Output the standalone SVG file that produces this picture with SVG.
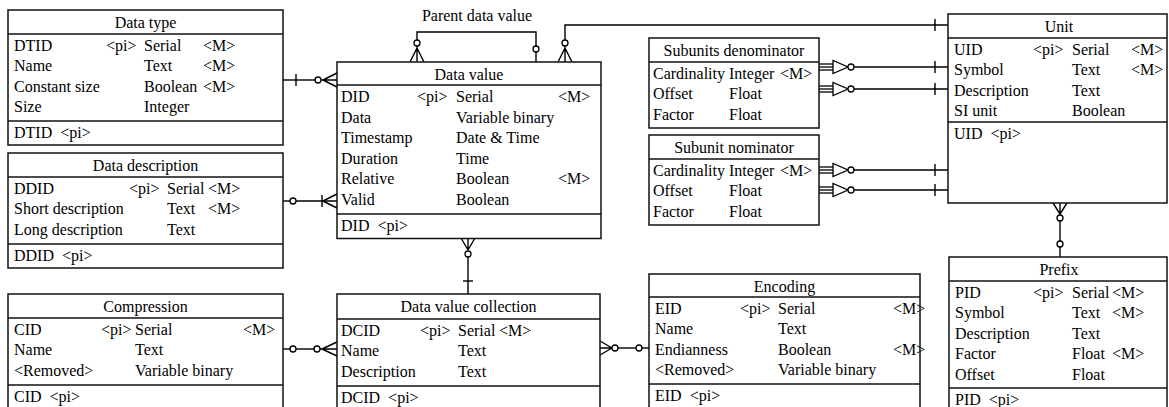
<svg xmlns="http://www.w3.org/2000/svg" width="1169" height="407" viewBox="0 0 1169 407">
  <style>
    .ent{fill:#fff;stroke:#111;stroke-width:1.5}
    .sep{stroke:#111;stroke-width:1.5}
    text{font-family:"Liberation Serif","Times New Roman",serif;font-size:16px;fill:#000}
    .t{text-anchor:middle}
    .c path,.c line{fill:none;stroke:#000;stroke-width:1.4}
    .c circle{fill:#fff;stroke:#000;stroke-width:1.3}
  </style>
  <defs>
    <!-- triple bar + closed crow's foot + circle, drawn pointing right from an entity edge at (0,0) -->
    <g id="subLink" fill="none" stroke="#000" stroke-width="1.3">
      <line x1="0" y1="-3" x2="14" y2="-3"/>
      <line x1="0" y1="0" x2="14" y2="0"/>
      <line x1="0" y1="3" x2="14" y2="3"/>
      <path d="M14,-6.5 L14,6.5 L29,0 Z" fill="#fff"/>
      <circle cx="32" cy="0" r="3" fill="#fff"/>
    </g>
  </defs>

  <!-- Connectors -->
  <g id="connectors" class="c">
    <!-- Data type 1 : n Data value -->
    <line x1="283" y1="80" x2="315" y2="80"/>
    <line x1="296" y1="74" x2="296" y2="86"/>
    <circle cx="318" cy="80" r="3"/>
    <path d="M321,80 H337 M323,80 L337,73 M323,80 L337,87"/>

    <!-- Data description 0..1 : 1..n Data value -->
    <line x1="283" y1="201" x2="290" y2="201"/>
    <circle cx="293" cy="201" r="3"/>
    <line x1="296" y1="201" x2="337" y2="201"/>
    <line x1="322" y1="195" x2="322" y2="207"/>
    <path d="M323,201 L337,194 M323,201 L337,208"/>

    <!-- Parent data value (self reference) -->
    <path d="M417,40 V32 H536 V46"/>
    <circle cx="417" cy="43" r="3"/>
    <path d="M417,46 V62 M417,48 L410,62 M417,48 L424,62"/>
    <circle cx="536" cy="49" r="3"/>
    <line x1="536" y1="52" x2="536" y2="62"/>
    <text class="t" x="477" y="21">Parent data value</text>

    <!-- Data value n : 1 Unit -->
    <path d="M565,40 V25 H948"/>
    <circle cx="565" cy="43" r="3"/>
    <path d="M565,46 V62 M565,48 L558,62 M565,48 L572,62"/>
    <line x1="935" y1="19" x2="935" y2="31"/>

    <!-- Subunits denominator : Unit -->
    <use href="#subLink" x="819" y="67"/>
    <line x1="854" y1="67" x2="948" y2="67"/>
    <line x1="935" y1="61" x2="935" y2="73"/>
    <use href="#subLink" x="819" y="89"/>
    <line x1="854" y1="89" x2="948" y2="89"/>
    <line x1="935" y1="83" x2="935" y2="95"/>

    <!-- Subunit nominator : Unit -->
    <use href="#subLink" x="819" y="170"/>
    <line x1="854" y1="170" x2="948" y2="170"/>
    <line x1="935" y1="164" x2="935" y2="176"/>
    <use href="#subLink" x="819" y="190"/>
    <line x1="854" y1="190" x2="948" y2="190"/>
    <line x1="935" y1="184" x2="935" y2="196"/>

    <!-- Unit 0..n : 0..1 Prefix -->
    <path d="M1060,203 V215 M1053,203 L1060,214 M1067,203 L1060,214"/>
    <circle cx="1060" cy="218" r="3"/>
    <line x1="1060" y1="221" x2="1060" y2="241"/>
    <circle cx="1060" cy="244" r="3"/>
    <line x1="1060" y1="247" x2="1060" y2="257"/>

    <!-- Data value n : 1 Data value collection -->
    <path d="M468,238 V250 M461,238 L468,250 M475,238 L468,250"/>
    <circle cx="468" cy="254" r="3"/>
    <line x1="468" y1="257" x2="468" y2="294"/>
    <line x1="463" y1="281" x2="473" y2="281"/>

    <!-- Compression 0..1 : 0..n Data value collection -->
    <line x1="283" y1="349" x2="290" y2="349"/>
    <circle cx="293" cy="349" r="3"/>
    <line x1="296" y1="349" x2="314" y2="349"/>
    <circle cx="317" cy="349" r="3"/>
    <path d="M320,349 H337 M322,349 L337,342 M322,349 L337,356"/>

    <!-- Data value collection 0..n : 0..1 Encoding -->
    <path d="M600,348 H612 M600,341 L612,348 M600,355 L612,348"/>
    <circle cx="615" cy="348" r="3"/>
    <line x1="618" y1="348" x2="636" y2="348"/>
    <circle cx="639" cy="348" r="3"/>
    <line x1="642" y1="348" x2="649" y2="348"/>
  </g>

  <!-- Data type -->
  <g id="data-type">
    <rect class="ent" x="8" y="10" width="275" height="135"/>
    <line class="sep" x1="8" y1="34" x2="283" y2="34"/>
    <line class="sep" x1="8" y1="121" x2="283" y2="121"/>
    <text class="t" x="145.5" y="28">Data type</text>
    <text x="14" y="51">DTID</text><text x="106" y="51">&lt;pi&gt;</text><text x="144" y="51">Serial</text><text x="203" y="51">&lt;M&gt;</text>
    <text x="14" y="71.4">Name</text><text x="144" y="71.4">Text</text><text x="203" y="71.4">&lt;M&gt;</text>
    <text x="14" y="91.8">Constant size</text><text x="144" y="91.8">Boolean</text><text x="203" y="91.8">&lt;M&gt;</text>
    <text x="14" y="112.2">Size</text><text x="144" y="112.2">Integer</text>
    <text x="14" y="138">DTID&#160;&#160;&lt;pi&gt;</text>
  </g>

  <!-- Data description -->
  <g id="data-description">
    <rect class="ent" x="8" y="153" width="275" height="115"/>
    <line class="sep" x1="8" y1="177" x2="283" y2="177"/>
    <line class="sep" x1="8" y1="244" x2="283" y2="244"/>
    <text class="t" x="145.5" y="171">Data description</text>
    <text x="14" y="194">DDID</text><text x="129" y="194">&lt;pi&gt;</text><text x="167" y="194">Serial</text><text x="208" y="194">&lt;M&gt;</text>
    <text x="14" y="214.4">Short description</text><text x="167" y="214.4">Text</text><text x="208" y="214.4">&lt;M&gt;</text>
    <text x="14" y="234.8">Long description</text><text x="167" y="234.8">Text</text>
    <text x="14" y="261">DDID&#160;&#160;&lt;pi&gt;</text>
  </g>

  <!-- Data value -->
  <g id="data-value">
    <rect class="ent" x="337" y="62" width="264" height="176.5"/>
    <line class="sep" x1="337" y1="85" x2="601" y2="85"/>
    <line class="sep" x1="337" y1="214" x2="601" y2="214"/>
    <text class="t" x="469" y="79.5">Data value</text>
    <text x="341" y="102">DID</text><text x="417" y="102">&lt;pi&gt;</text><text x="456" y="102">Serial</text><text x="558" y="102">&lt;M&gt;</text>
    <text x="341" y="122.6">Data</text><text x="456" y="122.6">Variable binary</text>
    <text x="341" y="143.2">Timestamp</text><text x="456" y="143.2">Date &amp; Time</text>
    <text x="341" y="163.8">Duration</text><text x="456" y="163.8">Time</text>
    <text x="341" y="184.4">Relative</text><text x="456" y="184.4">Boolean</text><text x="558" y="184.4">&lt;M&gt;</text>
    <text x="341" y="205">Valid</text><text x="456" y="205">Boolean</text>
    <text x="341" y="231">DID&#160;&#160;&lt;pi&gt;</text>
  </g>

  <!-- Subunits denominator -->
  <g id="subunits-denominator">
    <rect class="ent" x="649" y="38" width="170" height="90"/>
    <line class="sep" x1="649" y1="62" x2="819" y2="62"/>
    <text class="t" x="734" y="55.5">Subunits denominator</text>
    <text x="653" y="79">Cardinality</text><text x="729" y="79">Integer</text><text x="780" y="79">&lt;M&gt;</text>
    <text x="653" y="99.4">Offset</text><text x="729" y="99.4">Float</text>
    <text x="653" y="119.8">Factor</text><text x="729" y="119.8">Float</text>
  </g>

  <!-- Subunit nominator -->
  <g id="subunit-nominator">
    <rect class="ent" x="649" y="135" width="170" height="90"/>
    <line class="sep" x1="649" y1="159" x2="819" y2="159"/>
    <text class="t" x="734" y="152.5">Subunit nominator</text>
    <text x="653" y="176">Cardinality</text><text x="729" y="176">Integer</text><text x="780" y="176">&lt;M&gt;</text>
    <text x="653" y="196.4">Offset</text><text x="729" y="196.4">Float</text>
    <text x="653" y="216.8">Factor</text><text x="729" y="216.8">Float</text>
  </g>

  <!-- Unit -->
  <g id="unit">
    <rect class="ent" x="948" y="14" width="219" height="189"/>
    <line class="sep" x1="948" y1="38" x2="1167" y2="38"/>
    <line class="sep" x1="948" y1="122" x2="1167" y2="122"/>
    <text class="t" x="1059" y="31.5">Unit</text>
    <text x="954" y="55">UID</text><text x="1033" y="55">&lt;pi&gt;</text><text x="1072" y="55">Serial</text><text x="1131" y="55">&lt;M&gt;</text>
    <text x="954" y="75.4">Symbol</text><text x="1072" y="75.4">Text</text><text x="1131" y="75.4">&lt;M&gt;</text>
    <text x="954" y="95.8">Description</text><text x="1072" y="95.8">Text</text>
    <text x="954" y="116.2">SI unit</text><text x="1072" y="116.2">Boolean</text>
    <text x="954" y="139">UID&#160;&#160;&lt;pi&gt;</text>
  </g>

  <!-- Prefix -->
  <g id="prefix">
    <rect class="ent" x="949" y="257" width="218" height="160"/>
    <line class="sep" x1="949" y1="281" x2="1167" y2="281"/>
    <line class="sep" x1="949" y1="388" x2="1167" y2="388"/>
    <text class="t" x="1059" y="274.5">Prefix</text>
    <text x="955" y="298">PID</text><text x="1033" y="298">&lt;pi&gt;</text><text x="1072" y="298">Serial</text><text x="1112" y="298">&lt;M&gt;</text>
    <text x="955" y="318.4">Symbol</text><text x="1072" y="318.4">Text</text><text x="1112" y="318.4">&lt;M&gt;</text>
    <text x="955" y="338.8">Description</text><text x="1072" y="338.8">Text</text>
    <text x="955" y="359.2">Factor</text><text x="1072" y="359.2">Float</text><text x="1112" y="359.2">&lt;M&gt;</text>
    <text x="955" y="379.6">Offset</text><text x="1072" y="379.6">Float</text>
    <text x="955" y="404.5">PID&#160;&#160;&lt;pi&gt;</text>
  </g>

  <!-- Compression -->
  <g id="compression">
    <rect class="ent" x="8" y="294" width="275" height="123"/>
    <line class="sep" x1="8" y1="318" x2="283" y2="318"/>
    <line class="sep" x1="8" y1="385" x2="283" y2="385"/>
    <text class="t" x="145.5" y="311.5">Compression</text>
    <text x="14" y="335">CID</text><text x="101" y="335">&lt;pi&gt;</text><text x="135" y="335">Serial</text><text x="243" y="335">&lt;M&gt;</text>
    <text x="14" y="355.4">Name</text><text x="135" y="355.4">Text</text>
    <text x="14" y="375.8">&lt;Removed&gt;</text><text x="135" y="375.8">Variable binary</text>
    <text x="14" y="402">CID&#160;&#160;&lt;pi&gt;</text>
  </g>

  <!-- Data value collection -->
  <g id="data-value-collection">
    <rect class="ent" x="337" y="294" width="263" height="123"/>
    <line class="sep" x1="337" y1="319" x2="600" y2="319"/>
    <line class="sep" x1="337" y1="386" x2="600" y2="386"/>
    <text class="t" x="468.5" y="311.5">Data value collection</text>
    <text x="341" y="336">DCID</text><text x="420" y="336">&lt;pi&gt;</text><text x="458" y="336">Serial</text><text x="499" y="336">&lt;M&gt;</text>
    <text x="341" y="356.4">Name</text><text x="458" y="356.4">Text</text>
    <text x="341" y="376.8">Description</text><text x="458" y="376.8">Text</text>
    <text x="341" y="402.5">DCID&#160;&#160;&lt;pi&gt;</text>
  </g>

  <!-- Encoding -->
  <g id="encoding">
    <rect class="ent" x="649" y="274" width="271" height="143"/>
    <line class="sep" x1="649" y1="297" x2="920" y2="297"/>
    <line class="sep" x1="649" y1="384" x2="920" y2="384"/>
    <text class="t" x="784.5" y="291.5">Encoding</text>
    <text x="655" y="314">EID</text><text x="740" y="314">&lt;pi&gt;</text><text x="778" y="314">Serial</text><text x="893" y="314">&lt;M&gt;</text>
    <text x="655" y="334.4">Name</text><text x="778" y="334.4">Text</text>
    <text x="655" y="354.8">Endianness</text><text x="778" y="354.8">Boolean</text><text x="893" y="354.8">&lt;M&gt;</text>
    <text x="655" y="375.2">&lt;Removed&gt;</text><text x="778" y="375.2">Variable binary</text>
    <text x="655" y="401">EID&#160;&#160;&lt;pi&gt;</text>
  </g>
</svg>
